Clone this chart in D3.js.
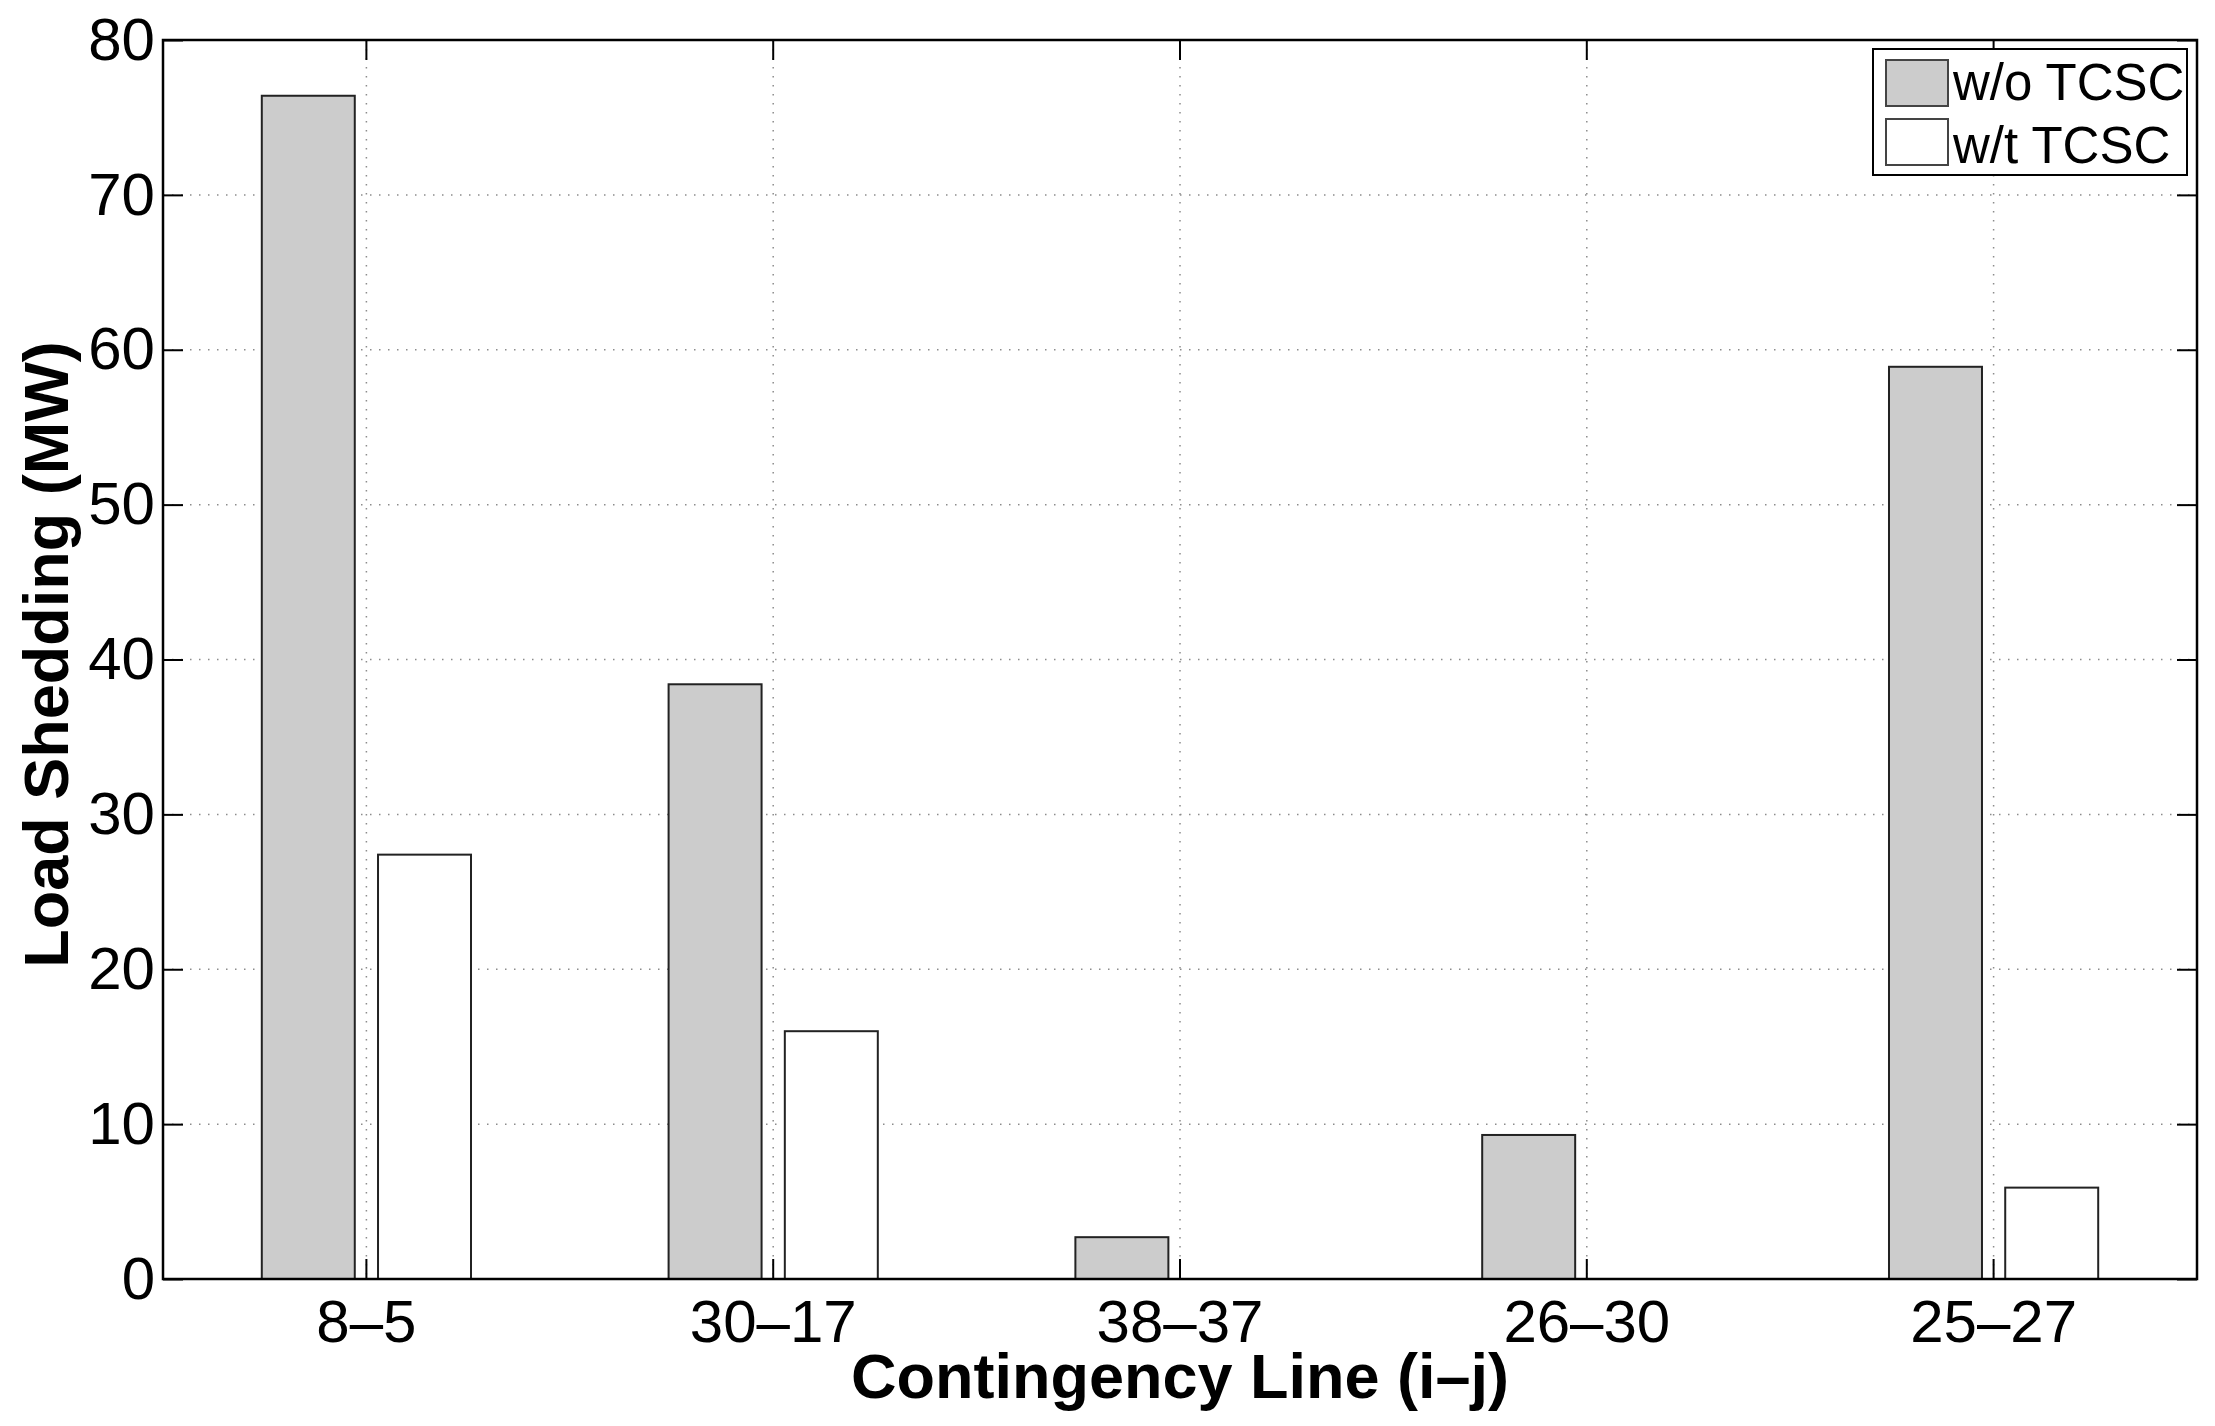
<!DOCTYPE html>
<meta charset="utf-8">
<style>
  body { margin: 0; background: #fff; }
  text { font-family: "Liberation Sans", Arial, Helvetica, sans-serif; fill: #000; }
  .grid line { stroke: #8c8c8c; stroke-width: 1.5px; stroke-dasharray: 1.5,7.5; }
  .bars rect { stroke: #222; stroke-width: 2px; }
</style>
<svg width="2215" height="1426"></svg>
<script src="https://d3js.org/d3.v7.min.js"></script>
<script>

  // data
  var lines = ["8\u20135", "30\u201317", "38\u201337", "26\u201330", "25\u201327"];
  var series = ["w/o TCSC", "w/t TCSC"];
  var withoutTCSC = [76.4, 38.4, 2.7, 9.3, 58.9];
  var withTCSC = [27.4, 16.0, 0, 0, 5.9];
  var yTicks = [0, 10, 20, 30, 40, 50, 60, 70, 80];
  var fills = ["#cccccc", "#ffffff"];

  var svg = d3.select("svg");
  var pL = 163, pR = 2197, pT = 40, pB = 1279;

  var x0 = d3.scaleBand().domain(lines).range([pL, pR]).padding(0);
  var groupW = x0.bandwidth() * 2 / 3.5;
  var x1 = d3.scaleBand().domain(series).range([-groupW / 2, groupW / 2])
      .paddingInner(0.2).paddingOuter(0.1);
  var y = d3.scaleLinear().domain([0, 80]).range([pB, pT]);

  var vals = [withoutTCSC, withTCSC];
  var rows = [];
  lines.forEach(function(c, i) {
    series.forEach(function(s, j) {
      rows.push({line: c, series: s, value: vals[j][i], k: j});
    });
  });

  // grid
  var grid = svg.append("g").attr("class", "grid");
  grid.selectAll(".gy").data(yTicks.slice(1, -1)).enter().append("line")
      .attr("x1", pL).attr("x2", pR)
      .attr("y1", function(d) { return y(d); }).attr("y2", function(d) { return y(d); });
  grid.selectAll(".gx").data(lines).enter().append("line")
      .attr("x1", function(d) { return x0(d) + x0.bandwidth() / 2; })
      .attr("x2", function(d) { return x0(d) + x0.bandwidth() / 2; })
      .attr("y1", pT).attr("y2", pB);

  // bars
  svg.append("g").attr("class", "bars").selectAll("rect")
      .data(rows.filter(function(d) { return d.value > 0; }))
      .enter().append("rect")
      .attr("x", function(d) { return x0(d.line) + x0.bandwidth() / 2 + x1(d.series); })
      .attr("width", x1.bandwidth())
      .attr("y", function(d) { return y(d.value); })
      .attr("height", function(d) { return y(0) - y(d.value); })
      .attr("fill", function(d) { return fills[d.k]; });

  // axes, ticks inward on all sides
  var yAxis = d3.axisLeft(y).tickValues(yTicks).tickSize(-20).tickFormat(d3.format("d"));
  var gy = svg.append("g").attr("transform", "translate(" + pL + ",0)").call(yAxis);
  gy.selectAll("text").attr("x", -8).attr("font-size", 60);

  var gyr = svg.append("g").attr("transform", "translate(" + pR + ",0)")
      .call(d3.axisRight(y).tickValues(yTicks).tickSize(-20).tickFormat(""));

  var xAxis = d3.axisBottom(x0).tickSize(-20);
  var gx = svg.append("g").attr("transform", "translate(0," + pB + ")").call(xAxis);
  gx.selectAll("text").attr("font-size", 60).attr("y", 63).attr("dy", 0);

  var gxt = svg.append("g").attr("transform", "translate(0," + pT + ")")
      .call(d3.axisTop(x0).tickSize(-20).tickFormat(""));

  [gy, gyr, gx, gxt].forEach(function(g) {
    g.select(".domain").remove();
    g.selectAll(".tick line").attr("stroke", "#000").attr("stroke-width", 2);
    g.selectAll(".tick text").attr("font-family", "Liberation Sans, Arial, sans-serif").attr("fill", "#000");
  });

  svg.append("rect")
      .attr("x", pL).attr("y", pT)
      .attr("width", pR - pL).attr("height", pB - pT)
      .attr("fill", "none").attr("stroke", "#000").attr("stroke-width", 2.5);

  // axis labels
  svg.append("text")
      .attr("x", (pL + pR) / 2).attr("y", 1398)
      .attr("text-anchor", "middle").attr("font-size", 63).attr("font-weight", "bold")
      .text("Contingency Line (i\u2013j)");

  svg.append("text")
      .attr("transform", "translate(68," + ((pT + pB) / 2 - 5) + ") rotate(-90)")
      .attr("text-anchor", "middle").attr("font-size", 63).attr("font-weight", "bold")
      .text("Load Shedding (MW)");

  // legend
  var lg = svg.append("g").attr("transform", "translate(1873,49)");
  lg.append("rect").attr("width", 314).attr("height", 126)
      .attr("fill", "#fff").attr("stroke", "#000").attr("stroke-width", 2);
  series.forEach(function(s, i) {
    lg.append("rect")
        .attr("x", 13).attr("y", 11 + i * 59).attr("width", 62).attr("height", 46)
        .attr("fill", fills[i]).attr("stroke", "#444").attr("stroke-width", 2);
    lg.append("text")
        .attr("x", 80).attr("y", 51 + i * 63)
        .attr("font-size", 51).text(s);
  });

</script>
